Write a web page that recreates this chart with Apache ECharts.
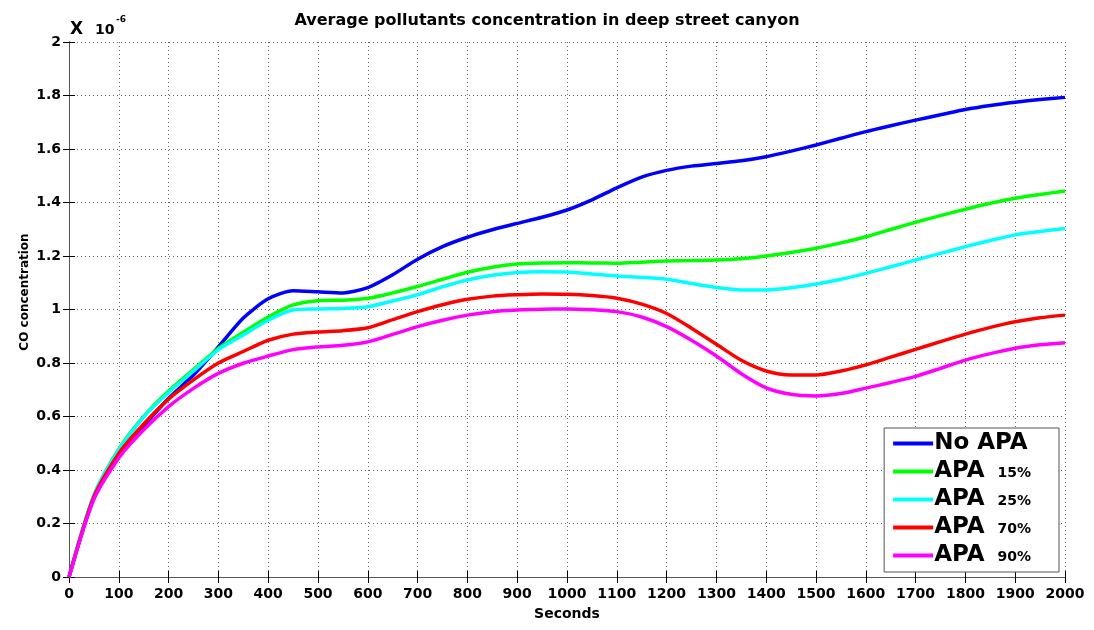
<!DOCTYPE html>
<html>
<head>
<meta charset="utf-8">
<script src="https://cdn.jsdelivr.net/npm/echarts@6/dist/echarts.min.js"></script>
<style>
html,body{margin:0;padding:0;background:#fff;}
#chart{width:1094px;height:630px;}
</style>
</head>
<body>
<div id="chart"></div>
<script>
const seconds = [0,50,100,150,200,250,300,350,400,450,500,550,600,650,700,750,800,850,900,950,1000,1050,1100,1150,1200,1250,1300,1350,1400,1450,1500,1550,1600,1650,1700,1750,1800,1850,1900,1950,2000];
const noApa = [0,0.30,0.465,0.565,0.668,0.755,0.86,0.968,1.04,1.07,1.066,1.062,1.082,1.13,1.188,1.235,1.27,1.298,1.322,1.345,1.372,1.41,1.455,1.495,1.52,1.536,1.546,1.556,1.571,1.592,1.615,1.64,1.665,1.687,1.708,1.728,1.748,1.763,1.775,1.785,1.793];
const apa15 = [0,0.305,0.478,0.6,0.695,0.775,0.855,0.915,0.972,1.017,1.033,1.035,1.042,1.062,1.086,1.113,1.139,1.158,1.17,1.174,1.175,1.174,1.173,1.177,1.181,1.183,1.185,1.19,1.2,1.213,1.229,1.249,1.272,1.299,1.326,1.351,1.375,1.397,1.416,1.43,1.443];
const apa25 = [0,0.305,0.475,0.598,0.69,0.77,0.85,0.905,0.96,0.998,1.002,1.004,1.01,1.032,1.055,1.085,1.11,1.128,1.138,1.141,1.14,1.133,1.125,1.12,1.113,1.097,1.082,1.073,1.073,1.081,1.095,1.113,1.135,1.16,1.185,1.21,1.235,1.258,1.279,1.292,1.303];
const apa70 = [0,0.3,0.462,0.572,0.665,0.737,0.8,0.843,0.885,0.908,0.916,0.921,0.932,0.962,0.992,1.018,1.038,1.05,1.055,1.058,1.057,1.052,1.042,1.02,0.985,0.93,0.87,0.81,0.77,0.755,0.755,0.77,0.793,0.822,0.851,0.88,0.908,0.933,0.954,0.969,0.979];
const apa90 = [0,0.29,0.445,0.55,0.637,0.705,0.761,0.799,0.826,0.85,0.86,0.866,0.879,0.907,0.936,0.96,0.979,0.992,0.998,1.001,1.002,0.999,0.992,0.972,0.936,0.885,0.826,0.76,0.707,0.683,0.677,0.686,0.706,0.727,0.75,0.78,0.811,0.835,0.855,0.868,0.876];

const seriesNames = ['No APA','APA 15%','APA 25%','APA 70%','APA 90%'];
const seriesData = [noApa, apa15, apa25, apa70, apa90];
const colors = ['#0000ff','#00ff00','#00ffff','#ff0000','#ff00ff'];

const FONT = 'DejaVu Sans';
const chart = echarts.init(document.getElementById('chart'), null, {renderer:'canvas'});

const axisLine = {show:true, lineStyle:{color:'#555', width:1}};
const tick = {show:true, inside:true, length:6, lineStyle:{color:'#000', width:1}};
const split = {show:true, lineStyle:{color:'#666', type:[1,3], width:1}};

chart.setOption({
  animation:false,
  backgroundColor:'#fff',
  color: colors,
  title:{
    text:'Average pollutants concentration in deep street canyon',
    left:'center', top:8,
    textStyle:{fontFamily:FONT, fontWeight:'bold', fontSize:16, color:'#000'}
  },
  graphic:[
    {type:'text', left:70, top:21, style:{text:'X', fontFamily:FONT, fontWeight:'bold', fontSize:17, fill:'#000'}},
    {type:'text', left:95, top:23, style:{text:'10', fontFamily:FONT, fontWeight:'bold', fontSize:14, fill:'#000'}},
    {type:'text', left:116, top:15, style:{text:'-6', fontFamily:FONT, fontWeight:'bold', fontSize:9, fill:'#000'}},
    {type:'text', x:25, y:292, rotation:Math.PI/2,
     style:{text:'CO concentration', fontFamily:FONT, fontWeight:'bold', fontSize:12, fill:'#000', align:'center', verticalAlign:'middle'}}
  ],
  grid:{left:69, right:29, top:42, bottom:53, containLabel:false},
  legend:{
    orient:'vertical',
    right:35, bottom:58,
    backgroundColor:'#fff',
    borderColor:'#555', borderWidth:1,
    padding:[4,28,5,9],
    itemGap:5,
    itemWidth:40, itemHeight:4,
    icon:'rect',
    data: seriesNames,
    formatter:function(name){
      if(name==='No APA') return '{big|No APA}';
      const p = name.split(' ');
      return '{big|'+p[0]+'}{small|'+p[1]+'}';
    },
    textStyle:{
      padding:[0,0,0,-4],
      rich:{
        big:{fontFamily:FONT, fontWeight:'bold', fontSize:23, color:'#000', lineHeight:24},
        small:{fontFamily:FONT, fontWeight:'bold', fontSize:14, color:'#000', lineHeight:24, padding:[4,0,0,13]}
      }
    }
  },
  xAxis:[{
    type:'value', min:0, max:2000, interval:100,
    name:'Seconds', nameLocation:'middle', nameGap:30,
    nameTextStyle:{fontFamily:FONT, fontWeight:'bold', fontSize:14, color:'#000'},
    axisLine:axisLine, axisTick:tick, splitLine:split,
    axisLabel:{fontFamily:FONT, fontWeight:'bold', fontSize:14, color:'#000', margin:10,
      formatter:function(v){return String(v);}}
  },{
    type:'value', min:0, max:2000, interval:100, position:'top',
    axisLine:axisLine, axisTick:tick, splitLine:{show:false}, axisLabel:{show:false}
  }],
  yAxis:[{
    type:'value', min:0, max:2, interval:0.2,
    axisLine:axisLine, axisTick:tick, splitLine:split,
    axisLabel:{fontFamily:FONT, fontWeight:'bold', fontSize:14, color:'#000', margin:8,
      formatter:function(v){return String(Math.round(v*10)/10);}}
  },{
    type:'value', min:0, max:2, interval:0.2, position:'right',
    axisLine:axisLine, axisTick:tick, splitLine:{show:false}, axisLabel:{show:false}
  }],
  series: seriesNames.map(function(n,i){
    return {
      name:n, type:'line', smooth:0.25, showSymbol:false, symbol:'none',
      xAxisIndex:0, yAxisIndex:0,
      lineStyle:{width:3.5, color:colors[i]},
      itemStyle:{color:colors[i]},
      data: seconds.map(function(s,k){return [s, seriesData[i][k]];})
    };
  })
});
</script>
</body>
</html>
